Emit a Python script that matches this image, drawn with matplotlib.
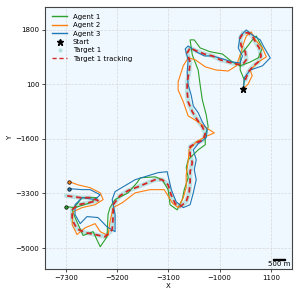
import numpy as np
import matplotlib
matplotlib.use('Agg')
import matplotlib.pyplot as plt
from matplotlib.lines import Line2D
from mpl_toolkits.axes_grid1.anchored_artists import AnchoredSizeBar

# target 1 path (x, y)
target_x = [50, 170, 380, 580, 700, 620, 460, 340, 170, -30, -160, -120, 50, 90, -70,
            -360, -650, -980, -1300, -1630, -1960, -2210, -2330, -2210, -2250, -2330,
            -2330, -2290, -2120, -1920, -1710, -1590, -1670, -1960, -2210, -2210, -2120,
            -2210, -2210, -2250, -2370, -2620, -2820, -2990, -3110, -3350, -3640, -3930,
            -4340, -4750, -5080, -5360, -5360, -5400, -5690, -6100, -6510, -6840, -7040,
            -7040, -6800, -6390, -5980, -6300, -6710, -7290]
target_y = [240, 490, 680, 800, 990, 1240, 1430, 1610, 1710, 1710, 1550, 1300, 1120, 870, 710,
            740, 800, 870, 990, 1050, 1150, 1240, 1080, 800, 490, 180,
            -130, -440, -750, -1000, -1220, -1410, -1630, -1720, -1840, -2090, -2340,
            -2620, -2930, -3280, -3560, -3710, -3620, -3340, -3030, -2870, -2870, -2960,
            -3090, -3210, -3370, -3650, -4020, -4430, -4650, -4580, -4520, -4400, -4120,
            -3810, -3650, -3590, -3520, -3430, -3430, -3370]

agent1_x = [-30, 10, -160, -160, 90, 340, 500, 750, 580, 250, -160, -480, -890, -1390,
            -1800, -2040, -2210, -2120, -1880, -1800, -1710, -1550, -1470, -1590, -1590,
            -1880, -2290, -2370, -2290, -2450, -2530, -2740, -3030, -3110, -3350, -3640,
            -4250, -4380, -4750, -5280, -5490, -5570, -5610, -5890, -6180, -6590, -6880,
            -7040, -6630, -6020, -6300, -6920, -7290]
agent1_y = [-40, 240, 550, 1020, 1240, 1490, 1610, 1240, 930, 800, 680, 800, 1050, 1120,
            1240, 1490, 1490, 1020, 550, 90, -380, -850, -1220, -1470, -1780,
            -1940, -2250, -2500, -2810, -3180, -3490, -3810, -3650, -3180, -2870, -2780,
            -2810, -2960, -3280, -3490, -3740, -3960, -4650, -4960, -4490, -4610, -4120,
            -3810, -3430, -3430, -3590, -3740, -3710]

agent2_x = [-30, 170, 330, 250, 580, 910, 750, 460, 290, 90, -30, -160, -320, -650,
            -1140, -1590, -2000, -2290, -2490, -2700, -2700, -2490, -2290, -1960, -1550,
            -1220, -1590, -1960, -2250, -2290, -2370, -2370, -2490, -2700, -2940, -3270,
            -3850, -4460, -4990, -5360, -5490, -5570, -5890, -6100, -6510, -6840, -7040,
            -7000, -6630, -6100, -5770, -5890, -6300, -6800, -7160]
agent2_y = [-40, 120, 370, 550, 800, 960, 1240, 1490, 1740, 1610, 1360, 1020, 680, 520,
            550, 650, 870, 930, 680, 180, -70, -440, -880, -1030, -1250,
            -1410, -1530, -1690, -1940, -2310, -2720, -3120, -3430, -3740, -3590, -3180,
            -3180, -3280, -3590, -3740, -4180, -4610, -4490, -4240, -4370, -4580, -4270,
            -3870, -3740, -3650, -3490, -3280, -3120, -3030, -2930]

agent3_x = [-30, 10, 250, 750, 1070, 830, 660, 340, 90, -160, -240, -70, -160, -480,
            -890, -1300, -1630, -1960, -2290, -2410, -2290, -2330, -2290, -2170, -2080,
            -1880, -1710, -1510, -1550, -1880, -2080, -1960, -2040, -1960, -2080, -2210,
            -2490, -2780, -2980, -3150, -3520, -4460, -5280, -5400, -5280, -5280, -5610,
            -5980, -6430, -6710, -6920, -6920, -6630, -6100, -5890, -6300, -6630, -7160]
agent3_y = [-40, 310, 550, 680, 930, 1240, 1490, 1640, 1800, 1610, 1240, 990, 770, 800,
            900, 990, 990, 1120, 1300, 1210, 870, 490, 90, -220, -570,
            -780, -1070, -1310, -1560, -1750, -1940, -2250, -2560, -2870, -3280, -3650,
            -3740, -3560, -3180, -2620, -2650, -2870, -3240, -3490, -3960, -4490, -4340,
            -4050, -4020, -4240, -3960, -3650, -3430, -3490, -3340, -3180, -3180, -3150]

start = (-30, -40)

plt.rcParams['font.size'] = 5
fig = plt.figure(figsize=(2.99, 2.99), dpi=100)
ax = fig.add_axes([0.1505, 0.1003, 0.826, 0.8773])
ax.set_facecolor('aliceblue')

# target band + tracking line
ax.plot(target_x, target_y, color='#8fd3cc', lw=3.2, alpha=0.55, solid_capstyle='round', zorder=2)

agents = [(agent1_x, agent1_y, 'tab:green', 'Agent 1'),
          (agent2_x, agent2_y, 'tab:orange', 'Agent 2'),
          (agent3_x, agent3_y, 'tab:blue', 'Agent 3')]
for xs, ys, c, lab in agents:
    ax.plot(xs, ys, color=c, lw=0.8, zorder=3)
    ax.plot(xs[-1], ys[-1], 'o', color=c, mec='black', mew=0.5, ms=2.5, zorder=5)

ax.plot(target_x, target_y, color='tab:red', lw=1.3, ls=(0, (3, 2)), zorder=4)
ax.plot(start[0], start[1], '*', color='black', ms=5, zorder=6)

handles = [Line2D([], [], color='tab:green', lw=1),
           Line2D([], [], color='tab:orange', lw=1),
           Line2D([], [], color='tab:blue', lw=1),
           Line2D([], [], color='black', marker='*', ls='', ms=5),
           Line2D([], [], color='#8fd3cc', marker='o', ls='', ms=2, alpha=0.5),
           Line2D([], [], color='tab:red', lw=1, ls=(0, (3, 2)))]
labels = ['Agent 1', 'Agent 2', 'Agent 3', 'Start', 'Target 1', 'Target 1 tracking']
ax.legend(handles, labels, loc='upper left', frameon=False, fontsize=5,
          handlelength=2.2, labelspacing=0.35, borderaxespad=0.6)

ax.set_xlim(-8150, 1960)
ax.set_ylim(-5655, 2525)
ax.set_xticks([-7300, -5200, -3100, -1000, 1100])
ax.set_yticks([1800, 100, -1600, -3300, -5000])
ax.set_xlabel('X', labelpad=2)
ax.set_ylabel('Y', labelpad=2)
ax.tick_params(length=2, width=0.5, pad=2)
ax.grid(True, ls='--', lw=0.5, color='#d0d0d0', alpha=0.8)
for s in ax.spines.values():
    s.set_color('#444444')
    s.set_linewidth(0.8)

sb = AnchoredSizeBar(ax.transData, 500, '500 m', 'lower right', pad=0.2,
                     frameon=False, size_vertical=20, sep=1, fontproperties={'size': 5})
ax.add_artist(sb)

fig.savefig('out.png', dpi=100)
